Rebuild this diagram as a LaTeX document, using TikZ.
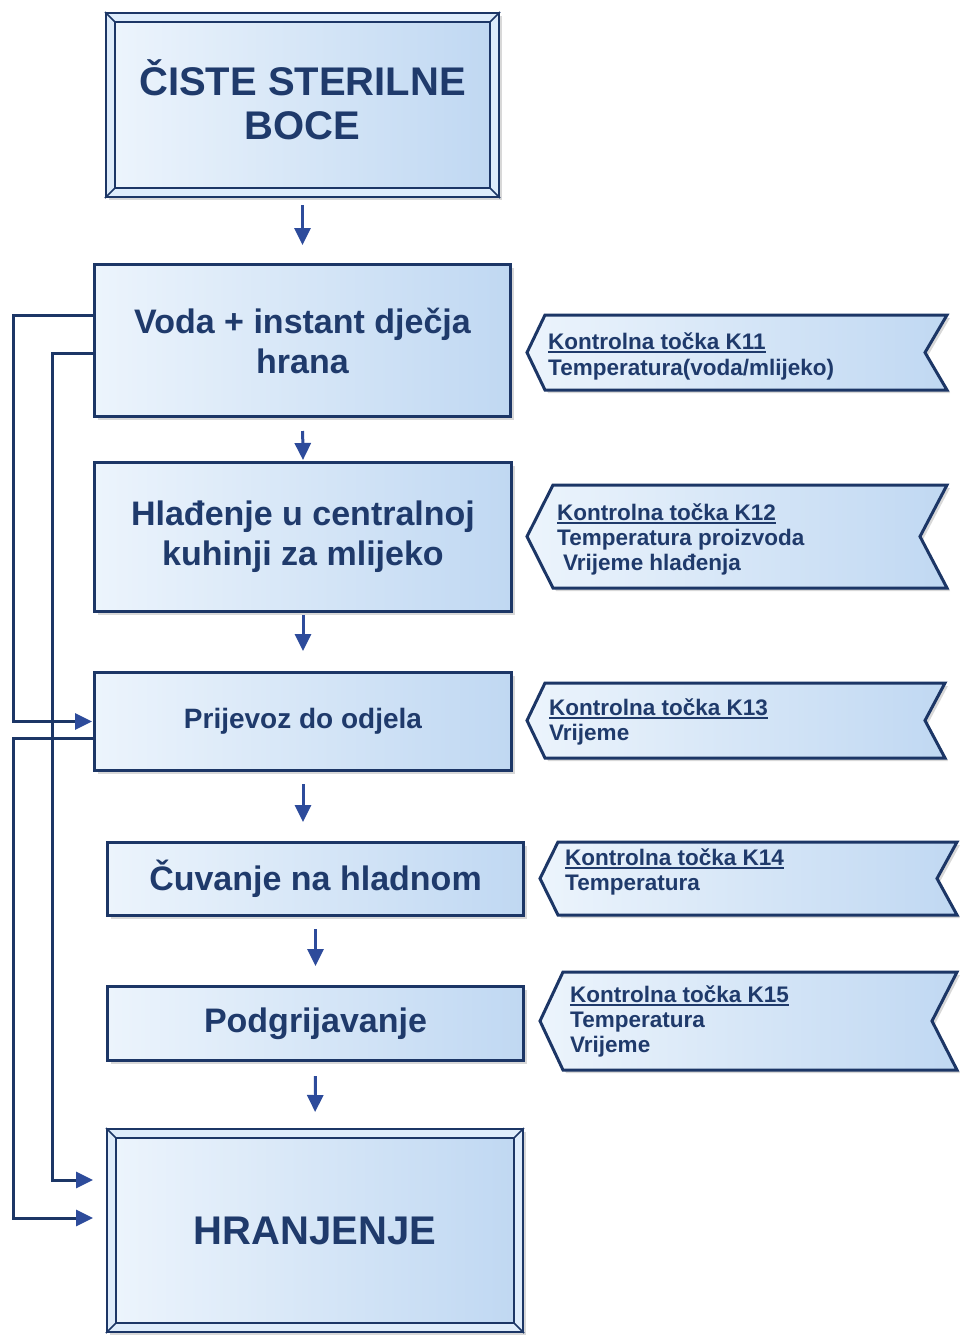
\documentclass[tikz,border=0pt]{standalone}
\usepackage{fontspec}
\setmainfont{Liberation Sans}
\usetikzlibrary{arrows.meta,shadows,calc}
\definecolor{navy}{RGB}{31,58,107}
\definecolor{boxline}{RGB}{28,54,102}
\definecolor{arr}{RGB}{45,75,155}
\definecolor{fillL}{RGB}{236,244,252}
\definecolor{fillR}{RGB}{192,216,242}
\definecolor{bevL}{RGB}{222,236,251}
\newcommand\ulx[1]{\setbox0\hbox{#1}\rlap{\rule[-3.5pt]{\wd0}{1.8pt}}\box0}
\tikzset{
  shad/.style={drop shadow={shadow xshift=3pt,shadow yshift=-3pt,opacity=0.3}},
  stepbox/.style={draw=boxline, line width=3pt, left color=fillL, right color=fillR,
    shad, text=navy, align=center, inner sep=0pt},
  bevelbox/.style={draw=boxline, line width=2pt, fill=bevL, shad, inner sep=0pt},
  bevinner/.style={draw=boxline, line width=1.5pt, left color=fillL, right color=fillR},
  bevline/.style={draw=boxline, line width=1.5pt},
  boxtxt/.style={text=navy, align=center, inner sep=0pt},
  flow/.style={draw=arr, line width=3pt, -{Triangle[width=16pt,length=17pt]}},
  conn/.style={draw=boxline, line width=3pt},
  connarrow/.style={conn, -{Triangle[width=16pt,length=17pt,color=arr]}},
  flag/.style={draw=boxline, line width=3pt, left color=fillL, right color=fillR, shad},
  flagtxt/.style={text=navy, font=\fontsize{22.5}{25}\selectfont\bfseries, anchor=base west, inner sep=0pt},
  f40/.style={font=\fontsize{40}{44}\selectfont\bfseries},
  f34/.style={font=\fontsize{34}{40}\selectfont\bfseries},
  f28/.style={font=\fontsize{28}{32}\selectfont\bfseries},
}
\begin{document}
\begin{tikzpicture}[x=1pt,y=-1pt]
\useasboundingbox[fill=white] (0,0) rectangle (959,1336);

% top bevelled box
\node[bevelbox, minimum width=393pt, minimum height=184pt] (n1) at (302.5,105) {};
\draw[bevinner] ($(n1.north west)+(10,10)$) rectangle ($(n1.south east)+(-10,-10)$);
\draw[bevline] (n1.north west) -- ($(n1.north west)+(10,10)$)
  (n1.north east) -- ($(n1.north east)+(-10,10)$)
  (n1.south west) -- ($(n1.south west)+(10,-10)$)
  (n1.south east) -- ($(n1.south east)+(-10,-10)$);
\node[boxtxt, f40] (n1t) at ($(n1.center)+(0,-5)$) {ČISTE STERILNE\\BOCE};

% step boxes
\node[stepbox, f34, minimum width=416pt, minimum height=152pt] (n2) at (302.5,340.5) {Voda + instant dječja\\hrana};
\node[stepbox, f34, minimum width=417pt, minimum height=149pt] (n3) at (303,537) {Hlađenje u centralnoj\\kuhinji za mlijeko};
\node[stepbox, f28, minimum width=417pt, minimum height=98pt] (n4) at (303,721.5) {Prijevoz do odjela};
\node[stepbox, f34, minimum width=416pt, minimum height=73pt] (n5) at (315.5,879) {Čuvanje na hladnom};
\node[stepbox, f34, minimum width=416pt, minimum height=74pt] (n6) at (315.5,1023.5) {Podgrijavanje};

% bottom bevelled box
\node[bevelbox, minimum width=416pt, minimum height=203pt] (n7) at (315,1230.5) {};
\draw[bevinner] ($(n7.north west)+(10,10)$) rectangle ($(n7.south east)+(-10,-10)$);
\draw[bevline] (n7.north west) -- ($(n7.north west)+(10,10)$)
  (n7.north east) -- ($(n7.north east)+(-10,10)$)
  (n7.south west) -- ($(n7.south west)+(10,-10)$)
  (n7.south east) -- ($(n7.south east)+(-10,-10)$);
\node[boxtxt, f40] (n7t) at (n7.center) {HRANJENJE};

% flow arrows
\draw[flow, shorten <=7pt, shorten >=18pt] (n1.south) -- (n2.north);
\draw[flow, shorten <=13pt, shorten >=1pt] (n2.south) -- (n3.north);
\draw[flow, shorten <=2pt, shorten >=20pt] (n3.south) -- (n4.north);
\draw[flow, shorten <=12pt, shorten >=19pt] (n4.south) -- (n4.south |- n5.north);
\draw[flow, shorten <=12pt, shorten >=19pt] (n5.south) -- (n6.north);
\draw[flow, shorten <=14pt, shorten >=16pt] (n6.south) -- (n7.north);

% left connectors
\coordinate (a1) at (13,315);
\coordinate (b1) at (52,353);
\coordinate (b2) at (52,1180);
\coordinate (c1) at (13,738);
\coordinate (c2) at (13,1218);
\draw[connarrow, shorten >=1pt] (n2.west |- a1) -- (a1) |- (n4.west);
\draw[connarrow, shorten >=13pt] (n2.west |- b1) -- (b1) -- (b2) -- (n7.west |- b2);
\draw[connarrow, shorten >=13pt] (n4.west |- c1) -- (c1) -- (c2) -- (n7.west |- c2);

% control point flags
\draw[flag] (527,352.5) -- (545,315) -- (947,315) -- (925,352.5) -- (947,390) -- (545,390) -- cycle;
\node[flagtxt] (k11a) at (548,349) {\ulx{Kontrolna točka K11}};
\node[flagtxt] (k11b) at (548,375) {Temperatura(voda/mlijeko)};

\draw[flag] (527,536.5) -- (553,485) -- (947,485) -- (920,536.5) -- (947,588) -- (553,588) -- cycle;
\node[flagtxt] (k12a) at (557,520) {\ulx{Kontrolna točka K12}};
\node[flagtxt] (k12b) at (557,545) {Temperatura proizvoda};
\node[flagtxt] (k12c) at (563,570) {Vrijeme hlađenja};

\draw[flag] (527,720.5) -- (545,683) -- (945,683) -- (925,720.5) -- (945,758) -- (545,758) -- cycle;
\node[flagtxt] (k13a) at (549,715) {\ulx{Kontrolna točka K13}};
\node[flagtxt] (k13b) at (549,740) {Vrijeme};

\draw[flag] (540,878.5) -- (558,842) -- (957,842) -- (937,878.5) -- (957,915) -- (558,915) -- cycle;
\node[flagtxt] (k14a) at (565,865) {\ulx{Kontrolna točka K14}};
\node[flagtxt] (k14b) at (565,890) {Temperatura};

\draw[flag] (540,1021) -- (563,972) -- (957,972) -- (932,1021) -- (957,1070) -- (563,1070) -- cycle;
\node[flagtxt] (k15a) at (570,1002) {\ulx{Kontrolna točka K15}};
\node[flagtxt] (k15b) at (570,1027) {Temperatura};
\node[flagtxt] (k15c) at (570,1052) {Vrijeme};
\end{tikzpicture}
\end{document}
